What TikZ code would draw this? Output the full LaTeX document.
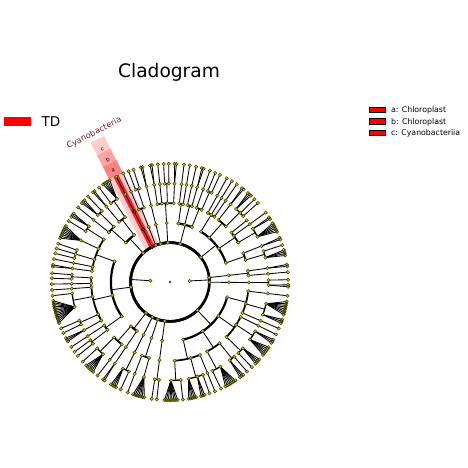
\documentclass[tikz,border=0pt]{standalone}
\usepackage{fontspec}
\setmainfont{DejaVu Sans}
\usetikzlibrary{positioning}

\definecolor{cladeyel}{RGB}{192,192,28}
\definecolor{cladelab}{RGB}{120,35,45}

% taxa in angular order: level where the taxon splits off / level of the taxon (16 = biomarker)
\def\taxa{%
2/6,6/6,6/6,6/6,5/6,4/6,6/6,%
3/6,6/6,6/6,6/6,6/6,6/6,5/6,6/6,4/6,4/5,%
3/6,5/6,5/6,6/6,6/6,4/6,6/6,%
3/6,4/6,4/6,%
2/6,5/6,4/6,3/6,6/6,4/6,3/6,4/6,%
2/6,6/6,4/6,5/6,4/6,4/6,6/6,%
2/6,6/6,%
2/6,5/6,4/6,%
2/16,%
2/6,6/6,6/6,6/6,6/6,5/6,4/6,6/6,3/6,5/6,6/6,6/6,4/6,%
2/6,6/6,6/6,5/6,4/6,6/6,6/6,6/6,6/6,6/6,6/6,6/6,4/6,5/6,5/6,4/6,4/6,6/6,%
3/6,5/6,4/6,4/6,4/6,5/6,6/6,6/6,6/6,6/6,6/6,6/6,6/6,6/6,6/6,6/6,6/6,6/6,%
4/6,5/6,4/6,6/6,6/6,3/6,4/6,5/6,%
2/6,5/6,6/6,6/6,6/6,6/6,6/6,4/6,3/6,6/6,%
2/6,6/6,6/6,6/6,5/6,%
2/6,4/6,6/6,6/6,6/6,6/6,6/6,6/6,%
2/6,5/6,%
2/6,6/6,6/6,6/6,6/6,6/6,6/6,6/6,5/6,4/6,6/6,6/6,6/6,6/6,5/6,6/6,6/6,5/6,4/6,%
3/6,5/6,6/6,6/6,6/6,6/6,6/6,6/6,4/6,6/6,6/6,5/6,%
3/6,5/6,6/6,6/6,6/6,4/6,6/6,6/6,6/6,6/6,6/6,5/6,6/6,6/6,4/6,%
3/6,4/6,6/6,6/6,5/6,6/6,6/6,6/6,6/6,6/6,6/6,6/6,4/6,%
1/6,6/6,5/6,2/6,4/6,6/6}
\def\cyang{117}

% angular gap before a taxon, by split level
\def\gapof#1{\ifcase\numexpr#1\relax 0\or5\or4.2\or3.6\or3.2\or2.8\or1.05\fi}

\newcount\lvk
\def\addchild#1#2{%
  \expandafter\ifx\csname cl#1\endcsname\empty
    \expandafter\xdef\csname cl#1\endcsname{#2}%
  \else
    \expandafter\xdef\csname cl#1\endcsname{\csname cl#1\endcsname,#2}%
  \fi}
\def\closenode#1{%
  \expandafter\let\expandafter\clist\csname cl#1\endcsname
  \ifx\clist\empty\else
    \foreach \ca [count=\cn] in \clist {\ifnum\cn=1 \xdef\cfirst{\ca}\fi\xdef\clast{\ca}\xdef\ccnt{\cn}}%
    \pgfmathsetmacro\nang{(\cfirst+\clast)/2}%
    \pgfmathsetmacro\rin{19.7*#1}%
    \pgfmathsetmacro\rout{19.7*(#1+1)}%
    \ifnum#1=5
      \foreach \ca in \clist {\draw[twig] (\nang:\rin) -- (\ca:\rout);}%
    \else
      \draw[twig] (\nang:\rin) -- (\nang:\rout);%
      \ifnum\ccnt>1
        \pgfmathsetmacro\aw{0.45*(6-#1)+0.4}%
        \draw[limb, line width=\aw pt] (\cfirst:\rout) arc[start angle=\cfirst, end angle=\clast, radius=\rout];%
      \fi
    \fi
    \xdef\dotpath{\dotpath (\nang:\rin) circle[radius=1.7]}%
    \expandafter\xdef\csname cl#1\endcsname{}%
    \addchild{\the\numexpr#1-1\relax}{\nang}%
  \fi}
\def\closeupto#1{%
  \global\lvk=5
  \loop\ifnum\lvk>\numexpr#1-1\relax
    \edef\kk{\the\lvk}\closenode\kk
    \global\advance\lvk by -1
  \repeat}

\begin{document}
\begin{tikzpicture}[x=1pt, y=1pt,
    twig/.style={line width=0.85pt, black},
    limb/.style={black},
    knot/.style={fill=cladeyel, draw=black!70!cladeyel, line width=0.45pt},
    hitknot/.style={fill=red, draw=black, line width=0.45pt},
    keybox/.style={rectangle, fill=red, draw=black, line width=0.6pt, minimum width=16pt, minimum height=5.5pt, inner sep=0pt},
    keytext/.style={anchor=base west, inner sep=0pt, font=\fontsize{7.8}{9}\selectfont},
    lettr/.style={inner sep=0pt, font=\fontsize{5.5}{6}\selectfont},
    taxlab/.style={inner sep=0pt, text=cladelab, font=\fontsize{8.3}{9}\selectfont}
]
    \useasboundingbox (0,0) rectangle (468,468);

    % Title and legends
    \node[font=\fontsize{18.6}{22}\selectfont] (title) at (169,396) {Cladogram};
    \node[rectangle, fill=red, minimum width=27pt, minimum height=8.7pt, inner sep=0pt] (tdkey) at (17.5,346.4) {};
    \node[anchor=west, inner sep=0pt, font=\fontsize{13.5}{15}\selectfont] (tdtext) at (41.5,346.4) {TD};
    \node[keybox] (keya) at (377,358) {};
    \node[keybox] (keyb) at (377,346.5) {};
    \node[keybox] (keyc) at (377,335) {};
    \node[keytext] (texta) at (391,355.3) {a: Chloroplast};
    \node[keytext] (textb) at (391,343.8) {b: Chloroplast};
    \node[keytext] (textc) at (391,332.3) {c: Cyanobacteriia};

    \begin{scope}[shift={(170,186)}]
    % biomarker clade shading
    \begin{scope}[rotate=\cyang]
        \fill[red, opacity=.2] (38,-7.5) rectangle (160,7.5);
        \fill[red, opacity=.2] (119,-7.5) rectangle (146,7.5);
        \fill[red, opacity=.2] (119,-7.5) rectangle (133,7.5);
        \fill[red, opacity=.85] (38,-2.6) rectangle (119,2.6);
    \end{scope}

    % first pass: total of the gaps
    \xdef\gsum{0}\xdef\cypos{0}
    \foreach \dv/\lv [count=\li] in \taxa {%
      \ifnum\li>1 \edef\gv{\gapof{\dv}}\pgfmathsetmacro\tmp{\gsum+\gv}\xdef\gsum{\tmp}\fi
      \ifnum\lv>10 \xdef\cypos{\gsum}\fi}
    \edef\gv{\gapof{1}}
    \pgfmathsetmacro\gscale{360/(\gsum+\gv)}
    \pgfmathsetmacro\startang{\cyang-\cypos*\gscale}
    \foreach \k in {0,...,5} {\expandafter\xdef\csname cl\k\endcsname{}}
    \xdef\dotpath{}

    % second pass: taxa and their branches
    \draw[limb, line width=2.65pt] (0,0) circle[radius=39.4];
    \xdef\lang{\startang}
    \foreach \dv/\lv [count=\li] in \taxa {%
      \ifnum\li>1
        \ifnum\dv<6 \closeupto{\dv}\fi
        \edef\gv{\gapof{\dv}}%
        \pgfmathsetmacro\tmp{\lang+\gv*\gscale}\xdef\lang{\tmp}%
      \fi
      \ifnum\lv>10 \xdef\lfl{\the\numexpr\lv-10\relax}\else\xdef\lfl{\lv}\fi
      \pgfmathsetmacro\rleaf{19.7*\lfl}%
      \xdef\dotpath{\dotpath (\lang:\rleaf) circle[radius=1.7]}%
      \addchild{\the\numexpr\lfl-1\relax}{\lang}%
    }
    \closeupto{1}

    % nodes
    \fill[knot] \dotpath;
    \fill[knot] (0,0) circle[radius=1];
    \fill[hitknot] (\cyang:39.4) circle[radius=1.7];
    \fill[hitknot] (\cyang:59.1) circle[radius=1.7];
    \fill[hitknot] (\cyang:78.8) circle[radius=1.7];

    % clade letters and label
    \node[lettr, rotate=\cyang-90] (ltra) at (\cyang:125) {a};
    \node[lettr, rotate=\cyang-90] (ltrb) at (\cyang:137) {b};
    \node[lettr, rotate=\cyang-90] (ltrc) at (\cyang:149) {c};
    \node[taxlab, rotate=\cyang-90] (cyano) at (\cyang:167) {Cyanobacteria};
    \end{scope}
\end{tikzpicture}
\end{document}
